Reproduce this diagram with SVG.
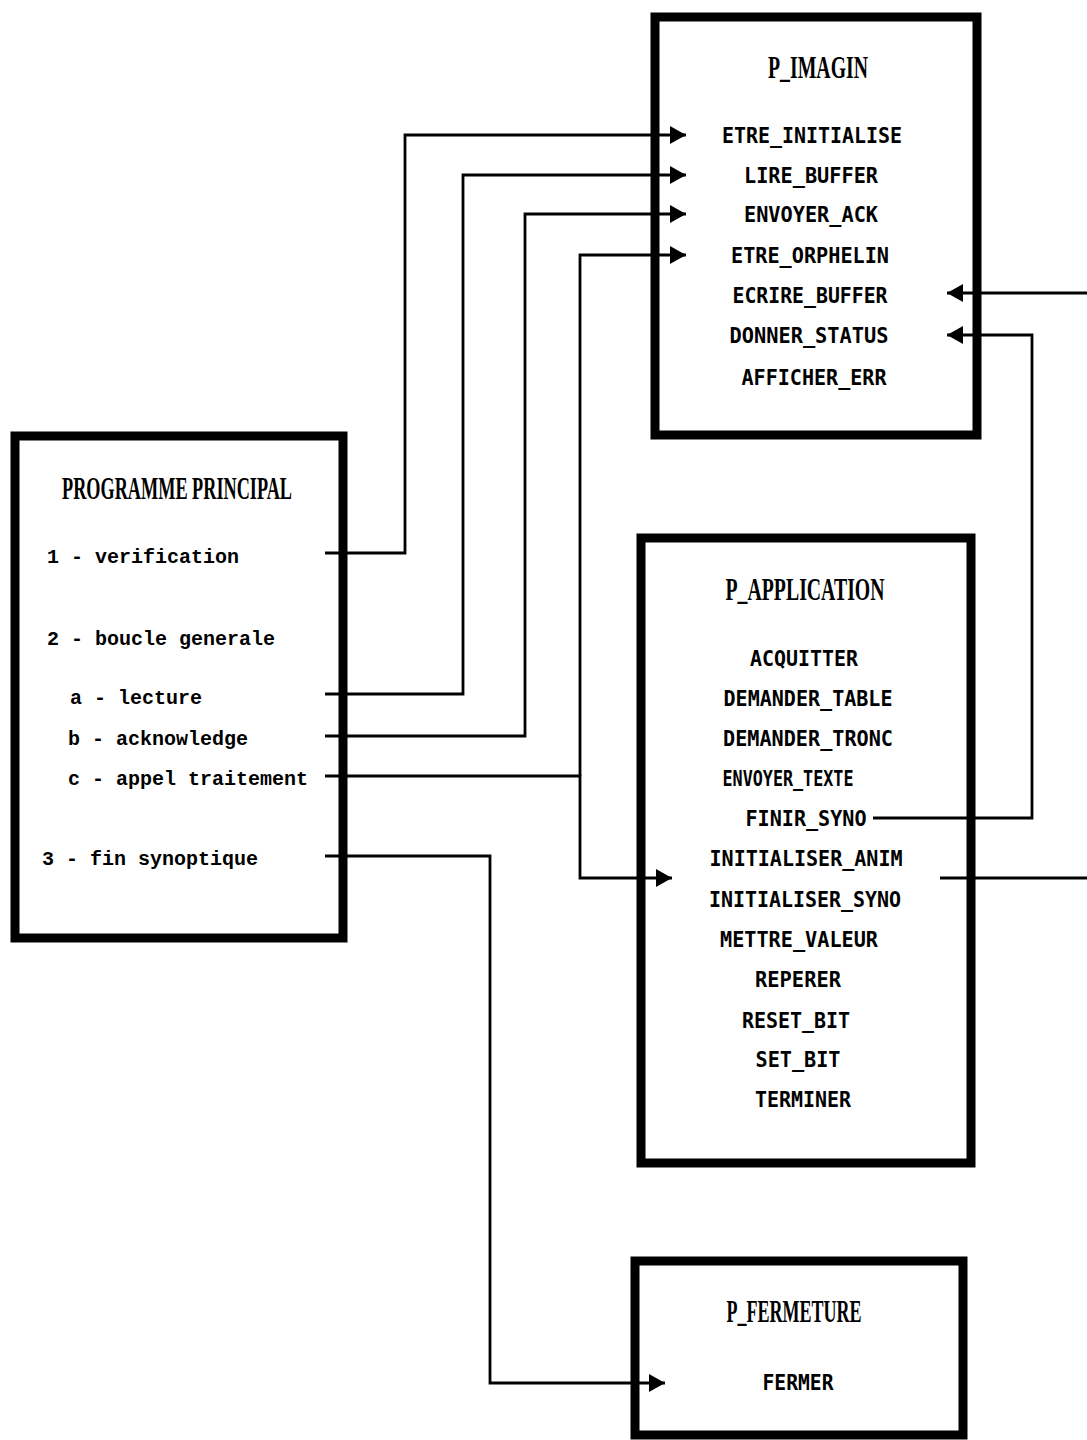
<svg xmlns="http://www.w3.org/2000/svg" width="1087" height="1440" viewBox="0 0 1087 1440">
  <style>
    .box { fill: #fff; stroke: #000; stroke-width: 9; }
    .title { font-family: "Liberation Serif", serif; font-weight: bold; font-size: 32px; text-anchor: middle; fill: #000; }
    .item { font-family: "DejaVu Sans Mono", "Liberation Mono", monospace; font-weight: bold; font-size: 22px; text-anchor: middle; fill: #000; }
    .step { font-family: "Liberation Mono", monospace; font-weight: bold; font-size: 20px; fill: #000; }
    .conn { fill: none; stroke: #000; stroke-width: 2.8; stroke-linejoin: miter; }
  </style>
  <defs>
    <marker id="arrow" markerUnits="userSpaceOnUse" markerWidth="17" markerHeight="18" refX="16" refY="9" orient="auto">
      <path d="M0,0 L16,9 L0,18 z" fill="#000"/>
    </marker>
  </defs>
  <rect width="1087" height="1440" fill="#fff"/>

  <g id="programme-principal">
    <rect class="box" x="15" y="436" width="328" height="502"/>
    <text class="title" x="177" y="499" textLength="230" lengthAdjust="spacingAndGlyphs">PROGRAMME PRINCIPAL</text>
    <text class="step" x="47" y="563">1 - verification</text>
    <text class="step" x="47" y="645">2 - boucle generale</text>
    <text class="step" x="70" y="704">a - lecture</text>
    <text class="step" x="68" y="745">b - acknowledge</text>
    <text class="step" x="68" y="785">c - appel traitement</text>
    <text class="step" x="42" y="865">3 - fin synoptique</text>
  </g>

  <g id="p-imagin">
    <rect class="box" x="655" y="17" width="322" height="418"/>
    <text class="title" x="818" y="78" textLength="100" lengthAdjust="spacingAndGlyphs">P_IMAGIN</text>
    <text class="item" x="812" y="143" textLength="180" lengthAdjust="spacingAndGlyphs">ETRE_INITIALISE</text>
    <text class="item" x="811" y="183" textLength="134" lengthAdjust="spacingAndGlyphs">LIRE_BUFFER</text>
    <text class="item" x="811" y="222" textLength="134" lengthAdjust="spacingAndGlyphs">ENVOYER_ACK</text>
    <text class="item" x="810" y="263" textLength="158" lengthAdjust="spacingAndGlyphs">ETRE_ORPHELIN</text>
    <text class="item" x="810" y="303" textLength="155" lengthAdjust="spacingAndGlyphs">ECRIRE_BUFFER</text>
    <text class="item" x="809" y="343" textLength="159" lengthAdjust="spacingAndGlyphs">DONNER_STATUS</text>
    <text class="item" x="814" y="385" textLength="145" lengthAdjust="spacingAndGlyphs">AFFICHER_ERR</text>
  </g>

  <g id="p-application">
    <rect class="box" x="641" y="538" width="330" height="625"/>
    <text class="title" x="805" y="600" textLength="159" lengthAdjust="spacingAndGlyphs">P_APPLICATION</text>
    <text class="item" x="804" y="666" textLength="108" lengthAdjust="spacingAndGlyphs">ACQUITTER</text>
    <text class="item" x="808" y="706" textLength="169" lengthAdjust="spacingAndGlyphs">DEMANDER_TABLE</text>
    <text class="item" x="808" y="746" textLength="170" lengthAdjust="spacingAndGlyphs">DEMANDER_TRONC</text>
    <text class="item" x="788" y="786" textLength="131" lengthAdjust="spacingAndGlyphs">ENVOYER_TEXTE</text>
    <text class="item" x="806" y="826" textLength="121" lengthAdjust="spacingAndGlyphs">FINIR_SYNO</text>
    <text class="item" x="806" y="866" textLength="193" lengthAdjust="spacingAndGlyphs">INITIALISER_ANIM</text>
    <text class="item" x="805" y="907" textLength="192" lengthAdjust="spacingAndGlyphs">INITIALISER_SYNO</text>
    <text class="item" x="799" y="947" textLength="158" lengthAdjust="spacingAndGlyphs">METTRE_VALEUR</text>
    <text class="item" x="798" y="987" textLength="86" lengthAdjust="spacingAndGlyphs">REPERER</text>
    <text class="item" x="796" y="1028" textLength="108" lengthAdjust="spacingAndGlyphs">RESET_BIT</text>
    <text class="item" x="798" y="1067" textLength="85" lengthAdjust="spacingAndGlyphs">SET_BIT</text>
    <text class="item" x="803" y="1107" textLength="96" lengthAdjust="spacingAndGlyphs">TERMINER</text>
  </g>

  <g id="p-fermeture">
    <rect class="box" x="635" y="1261" width="328" height="174"/>
    <text class="title" x="794" y="1322" textLength="135" lengthAdjust="spacingAndGlyphs">P_FERMETURE</text>
    <text class="item" x="798" y="1390" textLength="71" lengthAdjust="spacingAndGlyphs">FERMER</text>
  </g>

  <g id="connectors">
    <path class="conn" d="M325,553 H405 V135 H686" marker-end="url(#arrow)"/>
    <path class="conn" d="M325,694 H463 V175 H686" marker-end="url(#arrow)"/>
    <path class="conn" d="M325,736 H525 V214 H686" marker-end="url(#arrow)"/>
    <path class="conn" d="M580,776 V255 H686" marker-end="url(#arrow)"/>
    <path class="conn" d="M325,776 H580 V878 H672" marker-end="url(#arrow)"/>
    <path class="conn" d="M325,856 H490 V1383 H665" marker-end="url(#arrow)"/>
    <path class="conn" d="M873,818 H1032 V335 H947" marker-end="url(#arrow)"/>
    <path class="conn" d="M1087,293 H947" marker-end="url(#arrow)"/>
    <path class="conn" d="M940,878 H1087"/>
  </g>
</svg>
